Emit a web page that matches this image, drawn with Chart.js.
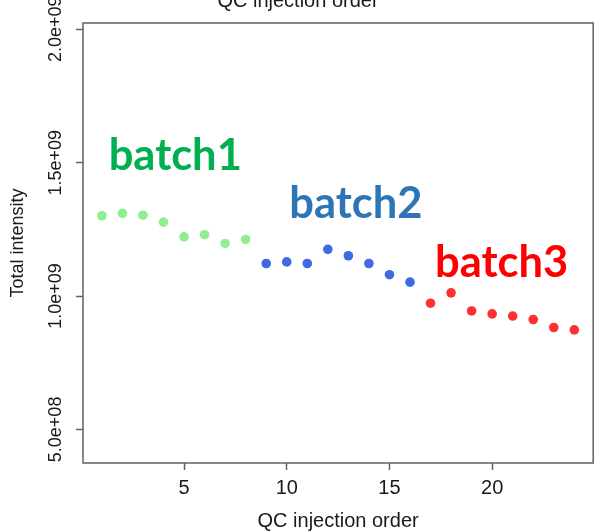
<!DOCTYPE html>
<html lang="en">
<head>
    <meta charset="UTF-8">
    <title>QC total intensity by injection order</title>
    <style>
        body {
            margin: 0;
            padding: 0;
            background: #fff;
        }

        #chartBox {
            width: 598px;
            height: 531px;
        }
    </style>
</head>
<body>
    <div id="chartBox">
        <canvas id="qcChart" width="598" height="531"></canvas>
    </div>

    <script src="https://cdn.jsdelivr.net/npm/chart.js"></script>
    <script>
        // injection order of each QC sample, split by batch
        const order1 = [1, 2, 3, 4, 5, 6, 7, 8];
        const order2 = [9, 10, 11, 12, 13, 14, 15, 16];
        const order3 = [17, 18, 19, 20, 21, 22, 23, 24];

        // total intensity per QC sample
        const batch1 = [1.301e9, 1.310e9, 1.303e9, 1.277e9, 1.222e9, 1.230e9, 1.197e9, 1.212e9];
        const batch2 = [1.122e9, 1.128e9, 1.122e9, 1.175e9, 1.151e9, 1.122e9, 1.080e9, 1.052e9];
        const batch3 = [0.973e9, 1.012e9, 0.944e9, 0.933e9, 0.925e9, 0.912e9, 0.882e9, 0.873e9];

        const batchNames = ['batch1', 'batch2', 'batch3'];
        const xTicks = [5, 10, 15, 20];
        const yTicks = [5e8, 1e9, 1.5e9, 2e9];

        // where each batch name sits, in axis units (left edge, baseline)
        const labelAt = [[1.33, 1.472e9], [10.12, 1.292e9], [17.22, 1.071e9]];
        const labelColors = ['#00B050', '#2E75B6', '#FF0000'];

        const toPoints = (xs, ys) => xs.map((x, i) => ({ x: x, y: ys[i] }));

        // R style exponent labels, e.g. 1.5e+09
        function sciLabel(v) {
            const [m, e] = v.toExponential(1).split('e');
            const n = parseInt(e, 10);
            return m + 'e' + (n < 0 ? '-' : '+') + String(Math.abs(n)).padStart(2, '0');
        }

        const plotBox = {
            id: 'plotBox',
            afterDraw(chart) {
                const a = chart.chartArea;
                const ctx = chart.ctx;
                ctx.save();
                ctx.strokeStyle = '#606060';
                ctx.lineWidth = 1.5;
                ctx.strokeRect(a.left, a.top, a.right - a.left, a.bottom - a.top);
                ctx.restore();
            }
        };

        const batchLabels = {
            id: 'batchLabels',
            afterDatasetsDraw(chart) {
                const ctx = chart.ctx;
                const xs = chart.scales.x;
                const ys = chart.scales.y;
                ctx.save();
                ctx.font = 'bold 43.5px Lato';
                ctx.textAlign = 'left';
                ctx.textBaseline = 'alphabetic';
                batchNames.forEach((name, i) => {
                    ctx.fillStyle = labelColors[i];
                    ctx.fillText(name, xs.getPixelForValue(labelAt[i][0]), ys.getPixelForValue(labelAt[i][1]));
                });
                ctx.restore();
            }
        };

        const axisFont = { family: "'Liberation Sans', Arial, sans-serif", size: 20 };
        const sideFont = { family: "'Liberation Sans', Arial, sans-serif", size: 18 };

        new Chart(document.getElementById('qcChart'), {
            type: 'scatter',
            data: {
                datasets: [
                    { label: batchNames[0], data: toPoints(order1, batch1), backgroundColor: '#90EE90' },
                    { label: batchNames[1], data: toPoints(order2, batch2), backgroundColor: '#4169E1' },
                    { label: batchNames[2], data: toPoints(order3, batch3), backgroundColor: '#FF3030' }
                ]
            },
            options: {
                responsive: false,
                animation: false,
                layout: { padding: { top: 0, right: 2, left: 0, bottom: 0 } },
                elements: {
                    point: { radius: 4.8, borderWidth: 0, hoverRadius: 4.8 }
                },
                plugins: {
                    legend: { display: false },
                    tooltip: { enabled: false },
                    title: {
                        display: true,
                        text: 'QC injection order',
                        color: '#1a1a1a',
                        font: { family: axisFont.family, size: 20, weight: 'normal' },
                        padding: { top: -11, bottom: 10 }
                    }
                },
                scales: {
                    x: {
                        type: 'linear',
                        min: 0.08,
                        max: 24.92,
                        afterBuildTicks: s => { s.ticks = xTicks.map(v => ({ value: v })); },
                        afterFit: s => { s.height = 68; },
                        grid: { drawOnChartArea: false, drawTicks: true, tickLength: 7, tickColor: '#606060', tickWidth: 1.5 },
                        border: { display: false },
                        ticks: { color: '#1a1a1a', font: axisFont, padding: 6, maxRotation: 0 },
                        title: { display: true, text: 'QC injection order', color: '#1a1a1a', font: axisFont, padding: { top: 0, bottom: -2 } }
                    },
                    y: {
                        type: 'linear',
                        min: 0.374e9,
                        max: 2.0236e9,
                        afterBuildTicks: s => { s.ticks = yTicks.map(v => ({ value: v })); },
                        afterFit: s => { s.width = 83; },
                        grid: { drawOnChartArea: false, drawTicks: true, tickLength: 7, tickColor: '#606060', tickWidth: 1.5 },
                        border: { display: false },
                        ticks: {
                            color: '#1a1a1a',
                            font: sideFont,
                            minRotation: 90,
                            maxRotation: 90,
                            crossAlign: 'center',
                            padding: -13,
                            callback: v => sciLabel(v)
                        },
                        title: { display: true, text: 'Total intensity', color: '#1a1a1a', font: sideFont, padding: { top: 7, bottom: 0 } }
                    }
                }
            },
            plugins: [plotBox, batchLabels]
        });
    </script>
</body>
</html>
